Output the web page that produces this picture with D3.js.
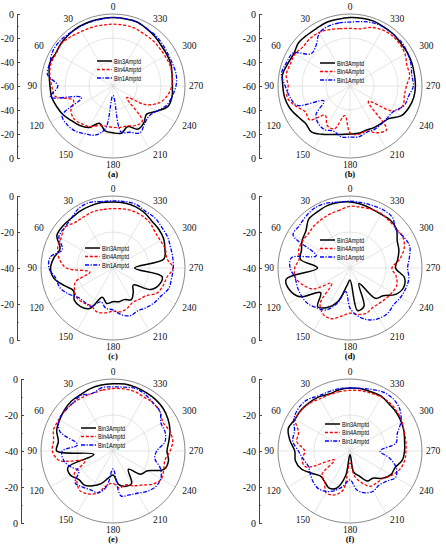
<!DOCTYPE html>
<html lang="en">
<head>
<meta charset="UTF-8">
<title>Radiation patterns (a)-(f)</title>
<script src="https://d3js.org/d3.v7.min.js"></script>
<style>
  body { margin: 0; background: #fff; }
  svg { display: block; }
</style>
</head>
<body>
<div id="chart"></div>
<script>
// angle of every sample, degrees, counter-clockwise from the top
const angles = d3.range(0, 360, 10);
const seriesNames = ["Bin3Amptd", "Bin4Amptd", "Bin1Amptd"];
const panelLabels = ["(a)", "(b)", "(c)", "(d)", "(e)", "(f)"];
const gridAngles = d3.range(0, 360, 30);
// value at the centre of each plot, dB
const radialMin = [-60, -60, -40, -40, -40, -40];
const tickStep = 20;

// amplitudes in dB, one value per angle
const a_bin3 = [-3,-3,-3,-3,-3.5,-4,-5,-4,-6,-7.5,-8,-10,-12,-15,-17,-20,-27,-22,-21,-20,-24,-18.5,-20,-23.5,-18,-11,-10,-10.5,-10,-8.5,-8,-7.5,-6,-4.5,-3,-3];
const a_bin4 = [-8.5,-8.5,-8,-7.5,-6,-4.5,-5.5,-5,-6.5,-9,-11,-25,-19.5,-17.5,-19,-21,-25,-26,-25.5,-25,-24.6,-22,-22,-45,-29,-19,-14,-11,-10,-9.5,-10,-10,-9.5,-9.5,-8.5,-8.5];
const a_bin1 = [-3,-3.5,-3.5,-3.5,-3,-2,-2,-4,-4.5,-14,-7,-32,-11,-10,-11,-14,-16.5,-24,-52,-21,-19,-15,-19,-21,-18,-12.7,-10,-7.5,-6.5,-7,-7,-6,-5,-4.5,-3,-3];

const b_bin3 = [-3,-3.5,-3.5,-4.5,-4.5,-4,-6,-5,-3,-4,-4.7,-6.5,-9.5,-11.6,-10,-13.5,-17,-19,-20,-20,-20.7,-20,-19.4,-17.7,-10.5,-7.7,-6,-5.5,-5.5,-5,-4.7,-4.7,-3.7,-3.3,-2.5,-2.7];
const b_bin4 = [-12,-11.5,-10,-8.5,-8.3,-9,-7,-7,-6,-8.5,-6.7,-11.6,-17,-16,-28,-22,-22,-35,-21,-19,-20,-15,-12.5,-40,-18,-13,-14,-13,-9.5,-9.5,-7,-5.8,-5.3,-6,-8,-11.6];
const b_bin1 = [-6.7,-6.7,-7,-9,-16,-18,-5.3,-3.6,-2,-6,-9,-13,-35,-23,-19,-18,-20,-17,-17.4,-17,-19,-18.5,-19,-19,-18,-12,-10.5,-7.2,-7.7,-6,-4.7,-3.6,-3.8,-3.6,-4,-5.5];

const c_bin3 = [-3.3,-3.1,-3.3,-3.5,-3.9,-3.7,-4,-8.7,-6.7,-5.3,-6.7,-11.3,-14.7,-12,-12,-14,-22.7,-20,-21.3,-21,-21.3,-19.7,-22.5,-25.3,-16,-12.7,-12.3,-28,-11.3,-9.3,-7.5,-6.7,-6.2,-4.7,-3.7,-3.3];
const c_bin4 = [-7,-7,-6.8,-7.3,-7,-5,-6.7,-7.3,-9.6,-14,-27,-18,-15.3,-14,-14.7,-15.7,-14,-14.7,-16,-15.3,-16.4,-18,-17.3,-16,-12,-10.5,-9.7,-6.7,-9.6,-9.1,-9.6,-9.3,-7.7,-6.8,-6.5,-6.7];
const c_bin1 = [-2.7,-2.5,-1.3,-1.8,-4,-5,-5.3,-10,-4.7,-4.4,-7.7,-8.5,-11.3,-14.7,-15.3,-15.3,-20,-17.3,-16.7,-13.7,-11.8,-12.5,-11.3,-10,-9.1,-7,-7,-6.5,-6.3,-6,-5.1,-4.7,-3.7,-3.7,-2.4,-2.5];

const d_bin3 = [-3.3,-3.1,-3.1,-3.9,-4.4,-8,-9.3,-11.3,-12,-22,-4,-4.3,-8,-18.7,-12,-14.7,-20,-30,-33.3,-16,-17.3,-30,-18,-16,-10.7,-8.3,-9.3,-14.7,-13.1,-11.1,-9.7,-6.3,-5.2,-5.5,-5,-4];
const d_bin4 = [-5.7,-7.3,-8,-8.7,-9.2,-10,-9.7,-9.7,-11.3,-9.3,-9.2,-12.3,-16.7,-26.7,-14.2,-10.3,-10,-12.9,-14.9,-13.8,-13.3,-14.7,-14.5,-13.8,-12.9,-12.3,-14,-16.7,-12,-8,-6,-6.3,-6,-5.2,-5.3,-5.7];
const d_bin1 = [-2.9,-2.8,-1.7,-1.3,-2.2,-3.3,-3.5,-20,-7,-6.7,-9,-8.9,-8.9,-9.3,-11.1,-13.1,-19,-26.7,-17.7,-12.7,-9.3,-7.7,-7.3,-8.3,-7.5,-7,-6.8,-8,-6.5,-4.7,-5.5,-6.7,-3.3,-2.8,-3.1,-3.1];

const e_bin3 = [-2.7,-2.8,-3.1,-3.9,-3.9,-4.7,-5.7,-6.7,-9.2,-8.7,-29.3,-13.3,-12.9,-15.3,-15.3,-17.7,-20.7,-24.7,-26.7,-21,-19.1,-19.3,-26.7,-20,-18,-10,-8.7,-10,-8.5,-6.3,-4.7,-3.5,-2.9,-2.7,-2.4,-2.2];
const e_bin4 = [-5.3,-5.7,-6,-5.7,-5.3,-5.1,-5.3,-4.9,-6.5,-6.3,-9.7,-23.3,-15.3,-13.7,-11.3,-12.5,-15.1,-20.7,-22,-19,-20,-17.7,-15.3,-11.3,-9,-10,-10.7,-8.3,-6.3,-6.8,-8,-6,-5.3,-5.5,-4.8,-5];
const e_bin1 = [-4.4,-4.3,-6,-4.4,-5.3,-5.3,-5.3,-8.7,-20,-11.8,-12,-14.7,-18,-12.5,-13.8,-15.1,-15.3,-20,-30,-14.7,-14,-12.9,-10.7,-9.1,-9.3,-12,-16.4,-15.7,-10.7,-9.2,-9.2,-5.9,-5.2,-3.9,-3.1,-4];

const f_bin3 = [-5,-5.5,-6.3,-5.3,-4.9,-4.5,-4.7,-3.5,-6.1,-9.3,-9.2,-11.1,-15.3,-18.4,-18,-16.4,-18,-26,-38,-28,-25.3,-20.7,-20.3,-16.4,-13.7,-13.3,-10.5,-9.7,-9.2,-8.1,-7.2,-6.5,-6.1,-5,-5.1,-4.9];
const f_bin4 = [-6.3,-6.5,-6.7,-6.5,-5.3,-4.8,-4.9,-9.6,-10,-14.9,-12.9,-14,-30,-19.7,-18,-13.3,-14,-18,-33.3,-26,-21.3,-17.3,-16.9,-16.2,-13.1,-10.5,-9.2,-8.9,-8.5,-8,-6.8,-5.9,-5.3,-5.3,-5.9,-6];
const f_bin1 = [-5,-4.8,-5,-4.7,-2.9,-2.8,-4,-7.2,-7.7,-11.3,-13.7,-15.3,-14.5,-13.3,-12.7,-14,-16.8,-20.5,-24,-18,-15.3,-14.2,-15.1,-13.7,-10.7,-12.7,-17.7,-23.3,-14,-12.1,-7.3,-3.9,-2.4,-2.4,-3.7,-4.7];

const panelSeries = [
  [a_bin3, a_bin4, a_bin1],
  [b_bin3, b_bin4, b_bin1],
  [c_bin3, c_bin4, c_bin1],
  [d_bin3, d_bin4, d_bin1],
  [e_bin3, e_bin4, e_bin1],
  [f_bin3, f_bin4, f_bin1]
];

// layout of the six plots (page pixels)
const layout = [
  { cx: 113, cy: 86,  axisX: 17,  lx: -16, ly: -25 },
  { cx: 350, cy: 86,  axisX: 259, lx: -30, ly: -23 },
  { cx: 113, cy: 268, axisX: 17,  lx: -28, ly: -20 },
  { cx: 350, cy: 268, axisX: 259, lx: -30, ly: -28 },
  { cx: 113, cy: 451, axisX: 21,  lx: -32, ly: -23 },
  { cx: 350, cy: 451, axisX: 259, lx: -25, ly: -27 }
];

const styles = [
  { color: "#000000", width: 1.5, dash: null },
  { color: "#ff0000", width: 1.3, dash: "3,1.8" },
  { color: "#0000ff", width: 1.3, dash: "4,1.5,1.2,1.5" }
];

const W = 446, H = 550, R = 72;
const serif = "'Liberation Serif', 'Times New Roman', serif";
const rad = a => a * Math.PI / 180;

const svg = d3.select("#chart").append("svg")
  .attr("width", W).attr("height", H);
svg.append("rect").attr("width", W).attr("height", H).attr("fill", "#fff");

layout.forEach((p, k) => {
  const lo = radialMin[k];
  const r = d3.scaleLinear().domain([lo, 0]).range([0, R]);
  // left axis: signed distance from the centre, labelled as dB
  const y = d3.scaleLinear().domain([lo, -lo]).range([R, -R]);
  const line = d3.lineRadial()
    .angle((d, i) => -rad(angles[i]))
    .radius(d => r(d))
    .curve(d3.curveCatmullRomClosed.alpha(0.5));

  const g = svg.append("g").attr("transform", `translate(${p.cx},${p.cy})`);

  // grid
  g.selectAll(".spoke").data(gridAngles).enter().append("line")
    .attr("x1", 0).attr("y1", 0)
    .attr("x2", a => -R * Math.sin(rad(a)))
    .attr("y2", a => -R * Math.cos(rad(a)))
    .attr("stroke", "#d4d4d4").attr("stroke-width", 0.6);
  g.selectAll(".ring").data(d3.range(lo + tickStep, 0, tickStep)).enter().append("circle")
    .attr("r", d => r(d)).attr("fill", "none")
    .attr("stroke", "#d4d4d4").attr("stroke-width", 0.6);
  g.append("circle").attr("r", R).attr("fill", "none")
    .attr("stroke", "#8a8a8a").attr("stroke-width", 1);

  // angle labels
  g.selectAll(".alab").data(gridAngles).enter().append("text")
    .attr("font-family", serif).attr("font-size", 9.5).attr("fill", "#111")
    .attr("x", a => {
      const off = (a % 180 === 0) ? 0 : (a % 90 === 0 ? 4 : 8);
      return -(R + off) * Math.sin(rad(a));
    })
    .attr("y", a => {
      if (a === 0) return -R - 4;
      if (a === 180) return R + 4;
      const off = (a % 90 === 0) ? 4 : 8;
      return -(R + off) * Math.cos(rad(a)) + (a === 30 || a === 330 ? 2 : 0);
    })
    .attr("text-anchor", a => (a % 180 === 0) ? "middle" : (a < 180 ? "end" : "start"))
    .attr("dominant-baseline", a => a === 0 ? "auto" : (a === 180 ? "hanging" : "central"))
    .text(a => a);

  // left dB axis
  const ax = g.append("g").attr("transform", `translate(${p.axisX - p.cx},0)`);
  ax.call(d3.axisLeft(y).tickValues(d3.range(lo, -lo + 1, tickStep))
      .tickFormat(w => String(Math.abs(w) + lo))
      .tickSize(-3).tickSizeOuter(0).tickPadding(3))
    .attr("font-family", serif).attr("font-size", 10);
  ax.select(".domain").attr("stroke", "#444");
  ax.selectAll(".tick line").attr("stroke", "#444");
  ax.selectAll(".tick text").attr("fill", "#111");
  const minor = g.append("g").attr("transform", `translate(${p.axisX - p.cx},0)`);
  minor.call(d3.axisLeft(y).tickValues(d3.range(lo + tickStep / 2, -lo, tickStep))
      .tickFormat("").tickSize(-1.5).tickSizeOuter(0));
  minor.select(".domain").remove();
  minor.selectAll(".tick line").attr("stroke", "#444");

  // patterns
  panelSeries[k].forEach((vals, s) => {
    g.append("path").datum(vals)
      .attr("d", line)
      .attr("fill", "none")
      .attr("stroke", styles[s].color)
      .attr("stroke-width", styles[s].width)
      .attr("stroke-dasharray", styles[s].dash)
      .attr("stroke-linejoin", "round");
  });

  // legend
  const lg = g.append("g").attr("transform", `translate(${p.lx},${p.ly})`);
  seriesNames.forEach((name, s) => {
    lg.append("line")
      .attr("x1", 0).attr("x2", 15).attr("y1", s * 8.5).attr("y2", s * 8.5)
      .attr("stroke", styles[s].color).attr("stroke-width", styles[s].width)
      .attr("stroke-dasharray", styles[s].dash);
    lg.append("text")
      .attr("x", 17).attr("y", s * 8.5).attr("dominant-baseline", "central")
      .attr("font-family", "'Liberation Sans', Arial, sans-serif")
      .attr("font-size", 6.5)
      .attr("textLength", 27).attr("lengthAdjust", "spacingAndGlyphs")
      .text(name);
  });

  // panel caption
  g.append("text")
    .attr("x", 0).attr("y", R + 16)
    .attr("text-anchor", "middle").attr("dominant-baseline", "central")
    .attr("font-family", serif).attr("font-size", 8.5).attr("font-weight", "bold")
    .text(panelLabels[k]);
});
</script>
</body>
</html>
